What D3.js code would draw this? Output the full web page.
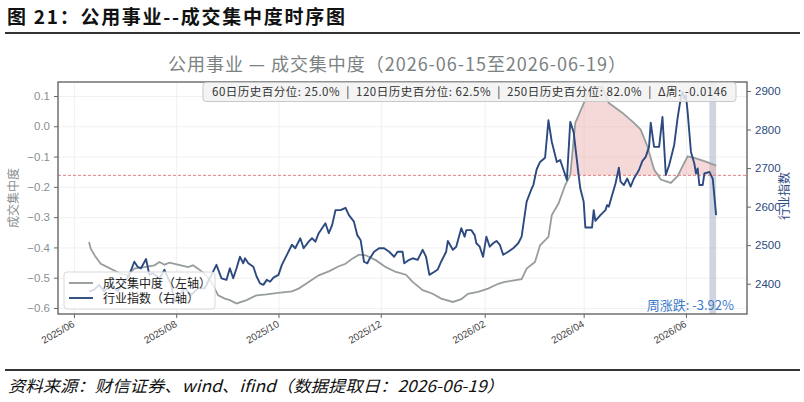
<!DOCTYPE html>
<html>
<head>
<meta charset="utf-8">
<script src="https://cdn.jsdelivr.net/npm/d3@7"></script>
<style>
  body { margin: 0; background: #fff; }
  svg { display: block; font-family: "Noto Sans CJK SC", "Noto Sans", sans-serif; }
</style>
</head>
<body>
<svg id="chart" width="804" height="402"></svg>
<script>
// 行业指数（右轴）
const idxDates = [
  "2025-06-10","2025-06-13","2025-06-16","2025-06-19","2025-06-23","2025-06-27","2025-07-01","2025-07-04",
  "2025-07-07","2025-07-09","2025-07-11","2025-07-14","2025-07-16","2025-07-18","2025-07-22","2025-07-25",
  "2025-07-29","2025-07-31","2025-08-03","2025-08-06","2025-08-10","2025-08-14","2025-08-18","2025-08-22",
  "2025-08-25","2025-08-28","2025-08-31","2025-09-02","2025-09-04","2025-09-06","2025-09-08","2025-09-10",
  "2025-09-11","2025-09-13","2025-09-16","2025-09-18","2025-09-20","2025-09-22","2025-09-24","2025-09-26",
  "2025-09-28","2025-10-01","2025-10-03","2025-10-06","2025-10-09","2025-10-11","2025-10-14","2025-10-16",
  "2025-10-19","2025-10-21","2025-10-23","2025-10-25","2025-10-27","2025-10-29","2025-10-31","2025-11-02",
  "2025-11-04","2025-11-07","2025-11-10","2025-11-12","2025-11-15","2025-11-17","2025-11-19","2025-11-21",
  "2025-11-23","2025-11-24","2025-11-27","2025-11-30","2025-12-03","2025-12-06","2025-12-09","2025-12-11",
  "2025-12-14","2025-12-15","2025-12-18","2025-12-20","2025-12-23","2025-12-26","2025-12-28","2025-12-30",
  "2026-01-02","2026-01-04","2026-01-06","2026-01-09","2026-01-10","2026-01-13","2026-01-15","2026-01-18",
  "2026-01-20","2026-01-21","2026-01-24","2026-01-26","2026-01-27","2026-01-29","2026-01-31","2026-02-02",
  "2026-02-04","2026-02-06","2026-02-08","2026-02-10","2026-02-12","2026-02-15","2026-02-18","2026-02-21",
  "2026-02-23","2026-02-26","2026-03-01","2026-03-02","2026-03-04","2026-03-06","2026-03-09","2026-03-11",
  "2026-03-13","2026-03-16","2026-03-18","2026-03-22","2026-03-24","2026-03-26","2026-03-29","2026-03-30",
  "2026-04-01","2026-04-02","2026-04-05","2026-04-06","2026-04-07","2026-04-08","2026-04-11","2026-04-14",
  "2026-04-15","2026-04-16","2026-04-18","2026-04-20","2026-04-22","2026-04-23","2026-04-25","2026-04-27",
  "2026-04-29","2026-05-01","2026-05-04","2026-05-06","2026-05-08","2026-05-10","2026-05-11","2026-05-13",
  "2026-05-16","2026-05-18","2026-05-20","2026-05-22","2026-05-25","2026-05-27","2026-05-29","2026-05-30",
  "2026-05-31","2026-06-01","2026-06-02","2026-06-04","2026-06-06","2026-06-07","2026-06-08","2026-06-09",
  "2026-06-11","2026-06-12","2026-06-15","2026-06-17","2026-06-19"
];
const idxValues = [
  2380, 2384, 2397, 2380, 2397, 2380, 2405, 2423,
  2457, 2444, 2440, 2464, 2423, 2427, 2414, 2436,
  2397, 2354, 2371, 2388, 2371, 2388, 2388, 2423,
  2449, 2414, 2410, 2440, 2414, 2440, 2470, 2453,
  2466, 2453, 2444, 2418, 2401, 2397, 2410, 2405,
  2416, 2423, 2449, 2475, 2501, 2492, 2518, 2492,
  2509, 2518, 2509, 2531, 2544, 2557, 2531, 2552,
  2591, 2591, 2597, 2578, 2561, 2526, 2513, 2457,
  2453, 2462, 2483, 2492, 2492, 2483, 2470, 2483,
  2483, 2453, 2462, 2466, 2462, 2488, 2470, 2423,
  2431, 2437, 2457, 2483, 2511, 2488, 2496, 2544,
  2522, 2539, 2539, 2526, 2505, 2496, 2470, 2522,
  2496, 2505, 2511, 2501, 2475, 2483, 2492, 2505,
  2522, 2613, 2647, 2656, 2697, 2716, 2727, 2824,
  2768, 2716, 2721, 2669, 2820, 2794, 2682, 2647,
  2613, 2546, 2546, 2546, 2591, 2563, 2578, 2591,
  2604, 2600, 2630, 2660, 2701, 2665, 2656, 2673,
  2652, 2673, 2695, 2718, 2729, 2755, 2818, 2755,
  2755, 2833, 2682, 2708, 2760, 2829, 2885, 2898,
  2880, 2889, 2846, 2742, 2712, 2686, 2699, 2656,
  2656, 2686, 2690, 2672, 2578
];

// 成交集中度（左轴）
const concDates = [
  "2025-06-10","2025-06-11","2025-06-14","2025-06-17","2025-06-21","2025-06-25","2025-06-29","2025-07-03",
  "2025-07-07","2025-07-13","2025-07-19","2025-07-22","2025-07-25","2025-07-28","2025-08-02","2025-08-08",
  "2025-08-11","2025-08-14","2025-08-18","2025-08-22","2025-08-26","2025-08-30","2025-09-02","2025-09-06",
  "2025-09-12","2025-09-18","2025-09-24","2025-10-02","2025-10-09","2025-10-13","2025-10-19","2025-10-25",
  "2025-10-31","2025-11-06","2025-11-10","2025-11-14","2025-11-18","2025-11-22","2025-11-28","2025-12-04",
  "2025-12-10","2025-12-16","2025-12-20","2025-12-26","2026-01-01","2026-01-06","2026-01-13","2026-01-18",
  "2026-01-22","2026-01-28","2026-02-03","2026-02-09","2026-02-13","2026-02-23","2026-02-26","2026-03-03",
  "2026-03-06","2026-03-11","2026-03-13","2026-03-17","2026-03-21","2026-03-24","2026-03-27","2026-04-02",
  "2026-04-05","2026-04-12","2026-04-16","2026-04-24","2026-05-01","2026-05-05","2026-05-09","2026-05-13",
  "2026-05-17","2026-05-23","2026-05-27","2026-06-02","2026-06-06","2026-06-12","2026-06-19"
];
const concValues = [
  -0.382, -0.404, -0.432, -0.454, -0.465, -0.476, -0.487, -0.492,
  -0.470, -0.465, -0.459, -0.448, -0.457, -0.450, -0.457, -0.465,
  -0.459, -0.470, -0.487, -0.514, -0.558, -0.569, -0.574, -0.585,
  -0.574, -0.558, -0.555, -0.549, -0.545, -0.536, -0.514, -0.492,
  -0.479, -0.462, -0.454, -0.437, -0.424, -0.426, -0.442, -0.465,
  -0.481, -0.490, -0.514, -0.541, -0.553, -0.569, -0.580, -0.571,
  -0.553, -0.547, -0.536, -0.520, -0.514, -0.505, -0.470, -0.448,
  -0.393, -0.365, -0.293, -0.255, -0.194, -0.162, 0.011, 0.088,
  0.130, 0.130, 0.077, 0.045, 0.011, -0.011, -0.066, -0.143,
  -0.176, -0.187, -0.165, -0.099, -0.104, -0.115, -0.130
];

const xTickDates = ["2025-06-01","2025-08-01","2025-10-01","2025-12-01","2026-02-01","2026-04-01","2026-06-01"];
const leftTicks = [-0.6, -0.5, -0.4, -0.3, -0.2, -0.1, 0.0, 0.1];
const rightTicks = [2400, 2500, 2600, 2700, 2800, 2900];
const thresholdValue = -0.162;
const weekRange = ["2026-06-15", "2026-06-19"];
const statsText = "60日历史百分位: 25.0%  |  120日历史百分位: 62.5%  |  250日历史百分位: 82.0%  |  Δ周: -0.0146";
const weekChangeText = "周涨跌: -3.92%";

const parse = d3.timeParse("%Y-%m-%d");
const idx = idxDates.map((d, i) => ({ date: parse(d), v: idxValues[i] }));
const conc = concDates.map((d, i) => ({ date: parse(d), v: concValues[i] }));

const svg = d3.select("#chart");
const margin = { top: 82, right: 57, bottom: 88, left: 58 };
const W = 804, H = 402;
const width = W - margin.left - margin.right;
const height = H - margin.top - margin.bottom;

const GREY = "#979d9d", BLUE = "#2c4a80", AXIS_GREY = "#8a9090";

// 图号标题 + 分隔线
svg.append("text").attr("x", 7).attr("y", 24)
  .attr("font-size", 19).attr("font-weight", "bold").attr("fill", "#111")
  .attr("textLength", 338).attr("lengthAdjust", "spacing")
  .text("图 21：公用事业--成交集中度时序图");
svg.append("line").attr("x1", 5).attr("x2", 800).attr("y1", 33).attr("y2", 33)
  .attr("stroke", "#333").attr("stroke-width", 2);

svg.append("line").attr("x1", 5).attr("x2", 800).attr("y1", 370).attr("y2", 370)
  .attr("stroke", "#333").attr("stroke-width", 2);
svg.append("text").attr("x", 8).attr("y", 392)
  .attr("font-size", 16).attr("font-style", "italic").attr("fill", "#111")
  .attr("textLength", 496).attr("lengthAdjust", "spacingAndGlyphs")
  .text("资料来源：财信证券、wind、ifind（数据提取日：2026-06-19）");

// 图内标题
svg.append("text").attr("x", 397).attr("y", 71).attr("text-anchor", "middle")
  .attr("font-size", 18).attr("fill", "#7b8282")
  .attr("textLength", 458).attr("lengthAdjust", "spacing")
  .text("公用事业 — 成交集中度（2026-06-15至2026-06-19）");

const g = svg.append("g").attr("transform", `translate(${margin.left},${margin.top})`);

const x = d3.scaleTime()
  .domain([new Date(2025, 4, 22, 12), new Date(2026, 6, 7, 10)])
  .range([0, width]);
const yL = d3.scaleLinear().domain([-0.6198, 0.1462]).range([height, 0]);
const yR = d3.scaleLinear().domain([2321.4, 2923.4]).range([height, 0]);

// 网格
g.append("g")
  .call(d3.axisLeft(yL).tickValues(leftTicks).tickSize(-width).tickFormat(""))
  .call(s => s.select(".domain").remove())
  .call(s => s.selectAll("line").attr("stroke", "#ececec").attr("stroke-width", 0.8));
g.append("g")
  .attr("transform", `translate(0,${height})`)
  .call(d3.axisBottom(x).tickValues(xTickDates.map(parse)).tickSize(-height).tickFormat(""))
  .call(s => s.select(".domain").remove())
  .call(s => s.selectAll("line").attr("stroke", "#ececec").attr("stroke-width", 0.8));

// 本周区间
g.append("rect")
  .attr("x", x(parse(weekRange[0])))
  .attr("width", x(parse(weekRange[1])) - x(parse(weekRange[0])))
  .attr("y", 0).attr("height", height)
  .attr("fill", "#aeb9cc").attr("opacity", 0.6);

// 高于阈值的填充
const area = d3.area()
  .x(d => x(d.date))
  .y0(yL(thresholdValue))
  .y1(d => yL(Math.max(d.v, thresholdValue)));
g.append("path").datum(conc)
  .attr("d", area)
  .attr("fill", "#e8a9a9").attr("opacity", 0.45);

g.append("line")
  .attr("x1", 0).attr("x2", width)
  .attr("y1", yL(thresholdValue)).attr("y2", yL(thresholdValue))
  .attr("stroke", "#e07070").attr("stroke-width", 0.9).attr("stroke-dasharray", "3,2");

g.append("path").datum(conc)
  .attr("d", d3.line().x(d => x(d.date)).y(d => yL(d.v)))
  .attr("fill", "none").attr("stroke", GREY).attr("stroke-width", 1.8);

g.append("path").datum(idx)
  .attr("d", d3.line().x(d => x(d.date)).y(d => yR(d.v)))
  .attr("fill", "none").attr("stroke", BLUE).attr("stroke-width", 1.9)
  .attr("stroke-linejoin", "round");

// 坐标轴
const fmtL = v => d3.format(".1f")(v).replace("-", "−");
const axL = g.append("g")
  .call(d3.axisLeft(yL).tickValues(leftTicks).tickFormat(fmtL).tickSize(4).tickPadding(4));
axL.select(".domain").remove();
axL.selectAll("line").attr("stroke", "#666");
axL.selectAll("text").attr("fill", AXIS_GREY).attr("font-size", 11.5);

const axR = g.append("g").attr("transform", `translate(${width},0)`)
  .call(d3.axisRight(yR).tickValues(rightTicks).tickFormat(d3.format("d")).tickSize(4).tickPadding(4));
axR.select(".domain").remove();
axR.selectAll("line").attr("stroke", "#666");
axR.selectAll("text").attr("fill", BLUE).attr("font-size", 11.5);

const axB = g.append("g").attr("transform", `translate(0,${height})`)
  .call(d3.axisBottom(x).tickValues(xTickDates.map(parse)).tickFormat(d3.timeFormat("%Y/%m")).tickSize(4));
axB.select(".domain").remove();
axB.selectAll("line").attr("stroke", "#666");
axB.selectAll("text")
  .attr("fill", "#444").attr("font-size", 10)
  .attr("text-anchor", "end")
  .attr("dy", null).attr("y", 0)
  .attr("transform", "translate(1,12) rotate(-30)");

// 外框
g.append("rect").attr("width", width).attr("height", height)
  .attr("fill", "none").attr("stroke", "#666").attr("stroke-width", 1.4);

svg.append("text")
  .attr("transform", `translate(18,${margin.top + height / 2}) rotate(-90)`)
  .attr("text-anchor", "middle").attr("font-size", 12).attr("fill", AXIS_GREY)
  .text("成交集中度");
svg.append("text")
  .attr("transform", `translate(789,${margin.top + height / 2 - 2}) rotate(-90)`)
  .attr("text-anchor", "middle").attr("font-size", 12).attr("fill", BLUE)
  .text("行业指数");

// 图例
const lg = g.append("g").attr("transform", "translate(6,190)");
lg.append("rect").attr("width", 151).attr("height", 37).attr("rx", 3)
  .attr("fill", "#fff").attr("fill-opacity", 0.8).attr("stroke", "#d8d8d8");
[["成交集中度（左轴）", GREY], ["行业指数（右轴）", BLUE]].forEach(([label, c], i) => {
  const yy = 11 + i * 15;
  lg.append("line").attr("x1", 5).attr("x2", 29).attr("y1", yy).attr("y2", yy)
    .attr("stroke", c).attr("stroke-width", 1.9);
  lg.append("text").attr("x", 39).attr("y", yy + 4.5)
    .attr("font-size", 12).attr("fill", "#222").text(label);
});

// 统计文本框
const sg = g.append("g");
sg.append("rect")
  .attr("x", 145).attr("y", 0.5).attr("width", 533).attr("height", 19).attr("rx", 3)
  .attr("fill", "#f2f2f2").attr("fill-opacity", 0.85).attr("stroke", "#c8c8c8");
sg.append("text").attr("x", 411.5).attr("y", 14).attr("text-anchor", "middle")
  .attr("font-size", 11.5).attr("fill", "#333")
  .attr("textLength", 515).attr("lengthAdjust", "spacing")
  .style("white-space", "pre").text(statsText);

g.append("text").attr("x", width - 13).attr("y", height - 4).attr("text-anchor", "end")
  .attr("font-size", 13).attr("fill", "#3a7ac8").text(weekChangeText);
</script>
</body>
</html>
